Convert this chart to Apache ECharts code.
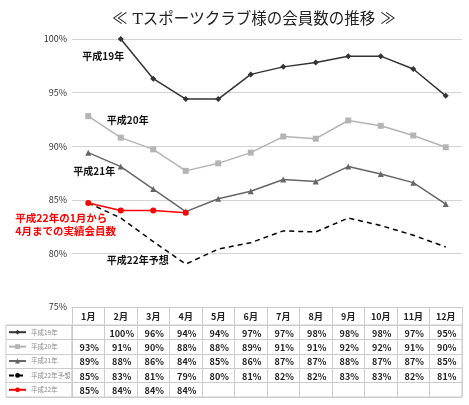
<!DOCTYPE html>
<html>
<head>
<meta charset="utf-8">
<script src="https://cdn.jsdelivr.net/npm/echarts@6/dist/echarts.min.js"></script>
<style>
html, body { margin: 0; padding: 0; background: #fff; }
#chart { width: 469px; height: 405px; }
</style>
</head>
<body>
<div id="chart"></div>
<script>
const months = ['1月', '2月', '3月', '4月', '5月', '6月', '7月', '8月', '9月', '10月', '11月', '12月']
const seriesNames = ['平成19年', '平成20年', '平成21年', '平成22年予想', '平成22年']
const h19 = [null, 100, 96.3, 94.4, 94.4, 96.7, 97.4, 97.8, 98.4, 98.4, 97.2, 94.7]
const h20 = [92.8, 90.8, 89.7, 87.7, 88.4, 89.4, 90.9, 90.7, 92.4, 91.9, 91.0, 89.9]
const h21 = [89.4, 88.1, 86.0, 83.9, 85.1, 85.8, 86.9, 86.7, 88.1, 87.4, 86.6, 84.6]
const h22plan = [84.7, 83.3, 81.1, 79.0, 80.4, 81.0, 82.1, 82.0, 83.3, 82.6, 81.7, 80.6]
const h22 = [84.7, 84.0, 84.0, 83.8, null, null, null, null, null, null, null, null]
const yMin = 75
const yMax = 100
const yStep = 5

const font = '"Noto Sans CJK JP", "Noto Sans", sans-serif'
const allRows = [h19, h20, h21, h22plan, h22]

// table cells: [month index, row index] + text
let tableCells = []
let tableTexts = []
allRows.forEach(function (row, r) {
  row.forEach(function (v, i) {
    if (v !== null) {
      tableCells.push([i, r])
      tableTexts.push(Math.round(v) + '%')
    }
  })
})

function note (coord, text, offset, color, size, align) {
  return {
    coord: coord,
    symbol: 'circle',
    symbolSize: 0,
    label: {
      show: true,
      position: 'inside',
      offset: offset,
      formatter: text,
      color: color,
      fontSize: size,
      fontWeight: 'bold',
      fontFamily: font,
      lineHeight: 13,
      align: align || 'center'
    }
  }
}

let chart = echarts.init(document.getElementById('chart'))
let option = {
  animation: false,
  title: {
    text: '≪ Tスポーツクラブ様の会員数の推移 ≫',
    left: 107,
    top: 7,
    textStyle: { fontSize: 15.5, fontWeight: 'normal', color: '#222', fontFamily: '"DejaVu Serif", ' + font }
  },
  legend: {
    orient: 'vertical',
    left: 8,
    top: 325,
    padding: 0,
    itemGap: 0,
    itemWidth: 17,
    itemHeight: 6,
    selectedMode: false,
    data: seriesNames,
    textStyle: { fontSize: 6.5, color: '#888', fontFamily: font, lineHeight: 14.4 }
  },
  grid: [
    { left: 72, right: 7, top: 39, height: 268, outerBoundsMode: 'none' },
    { left: 72, right: 7, top: 325, height: 72, show: true, borderColor: '#ccc', borderWidth: 1, outerBoundsMode: 'none' },
    { left: 6, width: 66, top: 325, height: 72, show: true, borderColor: '#ccc', borderWidth: 1, outerBoundsMode: 'none' }
  ],
  xAxis: [
    {
      gridIndex: 0,
      type: 'category',
      data: months,
      boundaryGap: true,
      axisLine: { lineStyle: { color: '#ccc' } },
      axisTick: { show: true, length: 18, interval: 0, lineStyle: { color: '#ccc' } },
      axisLabel: { interval: 0, margin: 5, fontSize: 9, fontWeight: 'bold', color: '#222', fontFamily: font }
    },
    {
      gridIndex: 1,
      type: 'category',
      data: months,
      axisLine: { show: false },
      axisTick: { show: false },
      axisLabel: { show: false },
      splitLine: { show: true, interval: 0, lineStyle: { color: '#ccc' } }
    },
    {
      gridIndex: 2,
      type: 'category',
      data: [''],
      axisLine: { show: false },
      axisTick: { show: false },
      axisLabel: { show: false }
    }
  ],
  yAxis: [
    {
      gridIndex: 0,
      type: 'value',
      min: yMin,
      max: yMax,
      interval: yStep,
      axisLine: { show: false },
      axisTick: { show: false },
      axisLabel: { formatter: '{value}%', fontSize: 9, color: '#333', margin: 5, fontFamily: font },
      splitLine: { lineStyle: { color: '#d4d4d4' } }
    },
    {
      gridIndex: 1,
      type: 'category',
      data: seriesNames,
      inverse: true,
      axisLine: { show: false },
      axisTick: { show: false },
      axisLabel: { show: false },
      splitLine: { show: true, interval: 0, lineStyle: { color: '#ccc' } }
    },
    {
      gridIndex: 2,
      type: 'category',
      data: seriesNames,
      inverse: true,
      axisLine: { show: false },
      axisTick: { show: false },
      axisLabel: { show: false },
      splitLine: { show: true, interval: 0, lineStyle: { color: '#ccc' } }
    }
  ],
  series: [
    {
      name: '平成19年',
      type: 'line',
      data: h19,
      symbol: 'diamond',
      symbolSize: 6,
      lineStyle: { color: '#333', width: 1.5 },
      itemStyle: { color: '#333' },
      markPoint: { data: [note(['1月', 98.4], '平成19年', [15, 0], '#111', 10)] }
    },
    {
      name: '平成20年',
      type: 'line',
      data: h20,
      symbol: 'rect',
      symbolSize: 6,
      lineStyle: { color: '#b4b4b4', width: 1.5 },
      itemStyle: { color: '#b4b4b4' },
      markPoint: { data: [note(['2月', 92.4], '平成20年', [7, 0], '#111', 10)] }
    },
    {
      name: '平成21年',
      type: 'line',
      data: h21,
      symbol: 'triangle',
      symbolSize: 6,
      lineStyle: { color: '#666', width: 1.5 },
      itemStyle: { color: '#666' },
      markPoint: { data: [note(['1月', 87.7], '平成21年', [6, 0], '#111', 10)] }
    },
    {
      name: '平成22年予想',
      type: 'line',
      data: h22plan,
      showSymbol: false,
      symbol: 'none',
      lineStyle: { color: '#000', width: 1.5, type: [5, 4] },
      itemStyle: { color: '#000' },
      markPoint: { data: [note(['2月', 79.4], '平成22年予想', [17, 0], '#111', 10)] }
    },
    {
      name: '平成22年',
      type: 'line',
      data: h22,
      symbol: 'circle',
      symbolSize: 6,
      lineStyle: { color: '#f00', width: 1.5 },
      itemStyle: { color: '#f00' },
      markPoint: { data: [note(['1月', 82.7], '平成22年の1月から\n4月までの実績会員数', [-73, 0], '#f00', 10.5, 'left')] }
    },
    {
      type: 'custom',
      xAxisIndex: 1,
      yAxisIndex: 1,
      data: tableCells,
      silent: true,
      renderItem: function (params, api) {
        let p = api.coord([api.value(0), api.value(1)])
        return {
          type: 'text',
          x: p[0] + 1,
          y: p[1] + 1,
          style: {
            text: tableTexts[params.dataIndex],
            align: 'center',
            verticalAlign: 'middle',
            font: 'bold 9px ' + font,
            fill: '#222'
          }
        }
      }
    }
  ]
}
chart.setOption(option)
</script>
</body>
</html>
